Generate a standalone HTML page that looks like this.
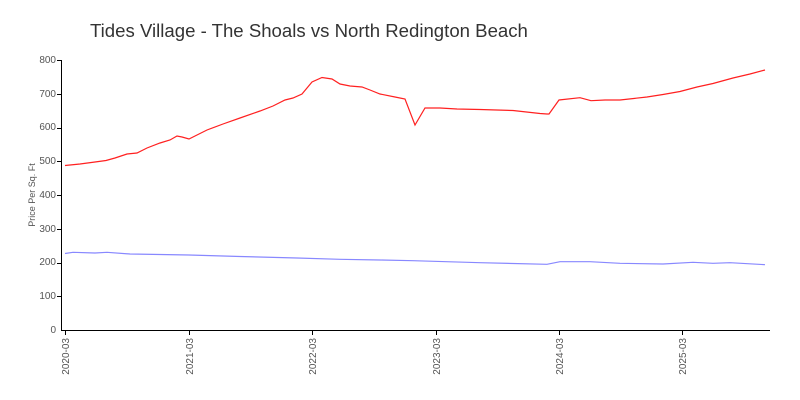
<!DOCTYPE html>
<html><head><style>body{margin:0;background:#fff}svg{display:block}</style></head><body>
<svg width="800" height="400" xmlns="http://www.w3.org/2000/svg" font-family="Liberation Sans, sans-serif">
<rect width="800" height="400" fill="#fff"/>
<text x="90" y="37" font-size="18.6" fill="#333">Tides Village - The Shoals vs North Redington Beach</text>
<g font-size="10" fill="#555" text-anchor="end">
<text x="56" y="333">0</text><text x="56" y="299">100</text><text x="56" y="265">200</text><text x="56" y="232">300</text><text x="56" y="198">400</text><text x="56" y="164">500</text><text x="56" y="130">600</text><text x="56" y="97">700</text><text x="56" y="63">800</text>
</g>
<text transform="translate(35,195) rotate(-90)" font-size="9" fill="#555" text-anchor="middle">Price Per Sq. Ft</text>
<g stroke="#000" stroke-width="1">
<line x1="61.5" y1="60" x2="61.5" y2="330"/>
<line x1="61" y1="330.5" x2="770" y2="330.5"/>
<line x1="57" y1="60.5" x2="61" y2="60.5"/><line x1="57" y1="94.5" x2="61" y2="94.5"/><line x1="57" y1="128.5" x2="61" y2="128.5"/><line x1="57" y1="161.5" x2="61" y2="161.5"/><line x1="57" y1="195.5" x2="61" y2="195.5"/><line x1="57" y1="229.5" x2="61" y2="229.5"/><line x1="57" y1="263.5" x2="61" y2="263.5"/><line x1="57" y1="296.5" x2="61" y2="296.5"/>
<line x1="65.5" y1="330" x2="65.5" y2="335"/><line x1="189.5" y1="330" x2="189.5" y2="335"/><line x1="312.5" y1="330" x2="312.5" y2="335"/><line x1="436.5" y1="330" x2="436.5" y2="335"/><line x1="559.5" y1="330" x2="559.5" y2="335"/><line x1="682.5" y1="330" x2="682.5" y2="335"/>
</g>
<g stroke="#bbb" stroke-width="1" id="minor"></g>
<g font-size="10" fill="#555" text-anchor="end">
<text transform="translate(69,338) rotate(-90)">2020-03</text>
<text transform="translate(193,338) rotate(-90)">2021-03</text>
<text transform="translate(316,338) rotate(-90)">2022-03</text>
<text transform="translate(440,338) rotate(-90)">2023-03</text>
<text transform="translate(563,338) rotate(-90)">2024-03</text>
<text transform="translate(686,338) rotate(-90)">2025-03</text>
</g>
<polyline fill="none" stroke="#ff2020" stroke-width="1.2" points="65,165.5 80,164 95,162 106,160.5 115,158 127,154 137,153 147,148 160,143 170,140 177,136 182,137 189,139 197,135 207,130 223,124 240,118 260,111 273,106 285,100 293,98 302,94 312,82 322,77.5 332,79 340,84 350,86 362,87 370,90 380,94 395,97 405,99 415,125 425,108 440,108 457,109 480,109.5 513,110.5 540,113.5 547,114 549,114 559,100 580,97.7 591,100.7 605,100 620,100 647,97 663,94.5 680,91.5 697,87 713,83.5 733,78 750,74 765,70"/>
<polyline fill="none" stroke="#8888ff" stroke-width="1.2" points="65,253.5 73,252.3 95,253 107,252.3 130,254 160,254.5 189,255 240,256.5 297,258 340,259.3 380,260 413,260.7 480,262.7 547,264.3 560,261.7 590,261.7 620,263.3 663,264 693,262.3 713,263.3 730,262.7 765,264.7"/>
<script>
var g=document.getElementById('minor'),s='';
for(var i=0;i<69;i++){var x=65.5+i*10.28;if(x>770)break;if(i%12==0)continue;s+='<line x1="'+x.toFixed(1)+'" y1="331" x2="'+x.toFixed(1)+'" y2="334"/>';}
g.innerHTML=s;
</script>
</svg>
</body></html>
